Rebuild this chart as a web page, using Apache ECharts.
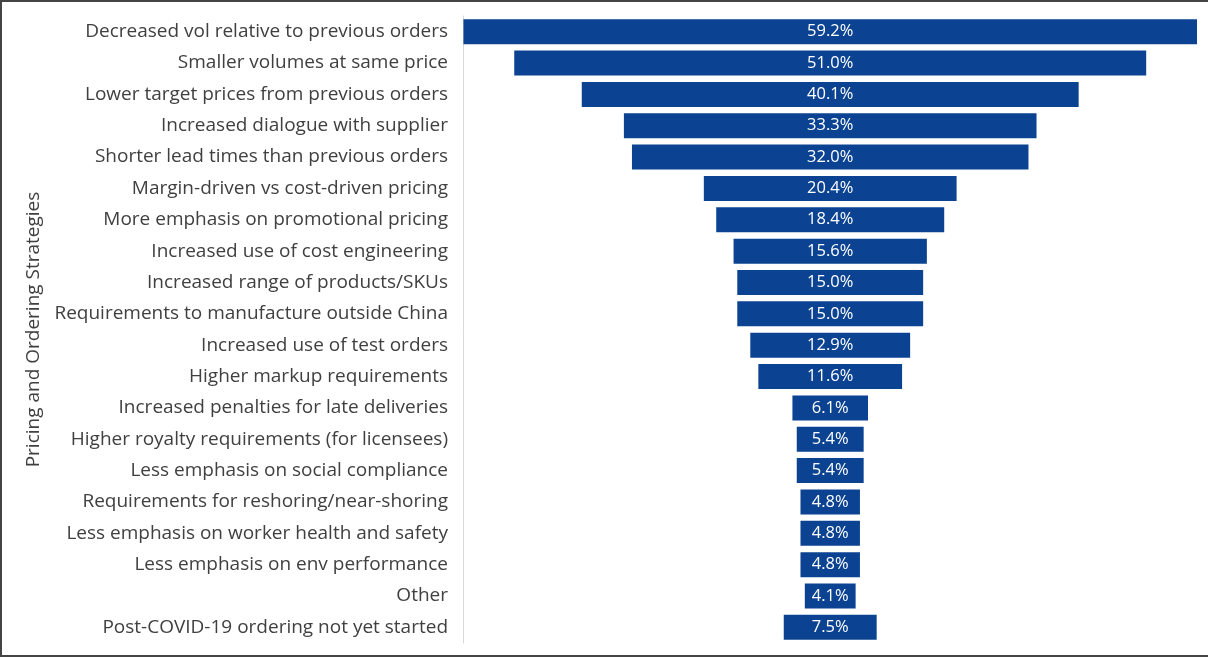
<!DOCTYPE html>
<html>
<head>
<meta charset="utf-8">
<script src="https://cdn.jsdelivr.net/npm/echarts@6/dist/echarts.min.js"></script>
<style>
  html, body { margin: 0; padding: 0; background: #fff; }
  #chart { width: 1208px; height: 657px; box-sizing: border-box;
           border-top: 2px solid #444; border-left: 2px solid #444; border-bottom: 2px solid #444; }
</style>
</head>
<body>
<div id="chart"></div>
<script>
// Pricing and ordering strategies (funnel-style bars)
var categories = [
  'Decreased vol relative to previous orders',
  'Smaller volumes at same price',
  'Lower target prices from previous orders',
  'Increased dialogue with supplier',
  'Shorter lead times than previous orders',
  'Margin-driven vs cost-driven pricing',
  'More emphasis on promotional pricing',
  'Increased use of cost engineering',
  'Increased range of products/SKUs',
  'Requirements to manufacture outside China',
  'Increased use of test orders',
  'Higher markup requirements',
  'Increased penalties for late deliveries',
  'Higher royalty requirements (for licensees)',
  'Less emphasis on social compliance',
  'Requirements for reshoring/near-shoring',
  'Less emphasis on worker health and safety',
  'Less emphasis on env performance',
  'Other',
  'Post-COVID-19 ordering not yet started'
];
var values = [59.2, 51.0, 40.1, 33.3, 32.0, 20.4, 18.4, 15.6, 15.0, 15.0,
              12.9, 11.6, 6.1, 5.4, 5.4, 4.8, 4.8, 4.8, 4.1, 7.5];

var maxVal = Math.max.apply(null, values);
// transparent spacer so each bar is centred
var offsets = values.map(function (v) { return (maxVal - v) / 2; });

var chart = echarts.init(document.getElementById('chart'));
chart.setOption({
  animation: false,
  grid: { left: 454, right: 11, top: 14, bottom: 12 },
  xAxis: {
    type: 'value', min: -0.6, max: maxVal, show: false
  },
  yAxis: {
    type: 'category',
    data: categories,
    inverse: true,
    name: 'Pricing and Ordering Strategies',
    nameLocation: 'middle',
    nameGap: 412,
    nameRotate: 90,
    nameTextStyle: { fontFamily: 'Open Sans', fontSize: 19, color: '#404040' },
    axisLine: { lineStyle: { color: '#d9d9d9' } },
    axisTick: { show: false },
    axisLabel: { fontFamily: 'Open Sans', fontSize: 19, color: '#404040', margin: 8 }
  },
  series: [
    {
      type: 'bar', stack: 'f', data: offsets, barWidth: 25,
      itemStyle: { color: 'transparent' }, silent: true
    },
    {
      type: 'bar', stack: 'f', data: values, barWidth: 25,
      itemStyle: { color: '#0b4392' },
      label: {
        show: true, position: 'inside', color: '#fff',
        fontFamily: 'Open Sans', fontSize: 16.5,
        formatter: function (p) { return p.value.toFixed(1) + '%'; }
      }
    }
  ]
});
</script>
</body>
</html>
